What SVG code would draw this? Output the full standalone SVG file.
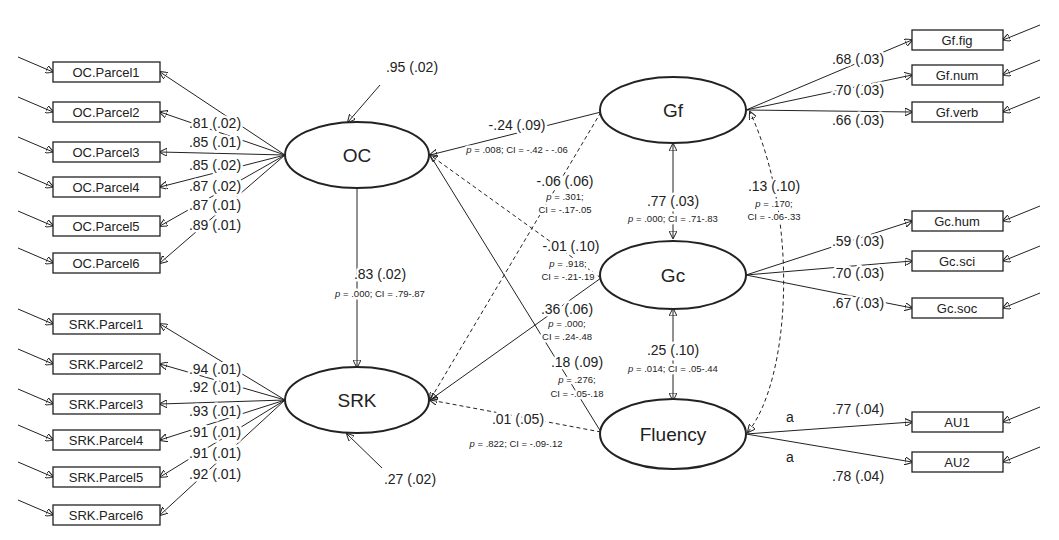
<svg xmlns="http://www.w3.org/2000/svg" width="1059" height="540" viewBox="0 0 1059 540">
<style>
text{font-family:"Liberation Sans",Arial,sans-serif;fill:#222}
#labels text{paint-order:stroke;stroke:#fff;stroke-width:5px;stroke-linejoin:round}
.b{font-size:14px}.s{font-size:9.5px}.n{font-size:19px}.r{font-size:13px}
line,path{stroke:#222;stroke-width:1;fill:none}
.d{stroke-dasharray:4 3}
rect{fill:#fff;stroke:#222;stroke-width:1.3}
ellipse{fill:#fff;stroke:#222;stroke-width:2}
</style>
<defs><marker id="a" markerWidth="8" markerHeight="8" refX="7" refY="4" orient="auto" markerUnits="userSpaceOnUse"><path d="M0,0L8,4L0,8z" fill="#222" stroke="none"/></marker>
<marker id="as" markerWidth="8" markerHeight="8" refX="1" refY="4" orient="auto" markerUnits="userSpaceOnUse"><path d="M8,0L0,4L8,8z" fill="#222" stroke="none"/></marker></defs>
<g id="connectors" marker-end="url(#a)">
<line x1="18" y1="57" x2="53" y2="72"/><line x1="18" y1="97" x2="53" y2="112"/><line x1="18" y1="137" x2="53" y2="152"/><line x1="18" y1="172" x2="53" y2="187"/><line x1="18" y1="211" x2="53" y2="226"/><line x1="18" y1="248" x2="53" y2="263"/>
<line x1="18" y1="309" x2="53" y2="324"/><line x1="18" y1="349" x2="53" y2="364"/><line x1="18" y1="389" x2="53" y2="404"/><line x1="18" y1="425" x2="53" y2="440"/><line x1="18" y1="462" x2="53" y2="477"/><line x1="18" y1="500" x2="53" y2="515"/>
<line x1="285" y1="155" x2="160" y2="72"/><line x1="285" y1="155" x2="160" y2="112"/><line x1="285" y1="155" x2="160" y2="152"/><line x1="285" y1="155" x2="160" y2="187"/><line x1="285" y1="155" x2="160" y2="226"/><line x1="285" y1="155" x2="160" y2="263"/>
<line x1="285" y1="400" x2="160" y2="324"/><line x1="285" y1="400" x2="160" y2="364"/><line x1="285" y1="400" x2="160" y2="404"/><line x1="285" y1="400" x2="160" y2="440"/><line x1="285" y1="400" x2="160" y2="477"/><line x1="285" y1="400" x2="160" y2="515"/>
<line x1="380" y1="85" x2="348" y2="122"/><line x1="382" y1="468" x2="347" y2="434"/>
<line x1="357" y1="188" x2="357" y2="367"/>
<line x1="1040" y1="25" x2="1003" y2="40"/><line x1="1040" y1="60" x2="1003" y2="75"/><line x1="1040" y1="97" x2="1003" y2="112"/><line x1="1040" y1="206" x2="1003" y2="221"/><line x1="1040" y1="246" x2="1003" y2="261"/><line x1="1040" y1="293" x2="1003" y2="308"/><line x1="1040" y1="407" x2="1003" y2="422"/><line x1="1040" y1="447" x2="1003" y2="462"/>
<line x1="746" y1="110" x2="912" y2="40"/><line x1="746" y1="110" x2="912" y2="75"/><line x1="746" y1="110" x2="912" y2="112"/>
<line x1="746" y1="275" x2="912" y2="221"/><line x1="746" y1="275" x2="912" y2="261"/><line x1="746" y1="275" x2="912" y2="308"/>
<line x1="746" y1="434" x2="912" y2="422"/><line x1="746" y1="434" x2="912" y2="462"/>
<line x1="673" y1="238" x2="673" y2="144" marker-start="url(#as)"/>
<line x1="673" y1="400" x2="673" y2="309" marker-start="url(#as)"/>
<line x1="601" y1="112" x2="430" y2="155"/>
<line class="d" x1="601" y1="112" x2="430" y2="400"/>
<line class="d" x1="601" y1="278" x2="430" y2="155"/>
<line x1="601" y1="278" x2="430" y2="400"/>
<line x1="601" y1="432" x2="430" y2="155" marker-end="none"/>
<line class="d" x1="601" y1="432" x2="430" y2="400"/>
<path class="d" d="M748,432 C790,380 800,220 750,112" marker-start="url(#as)"/>
</g>
<g id="OC"><ellipse cx="357" cy="155" rx="72" ry="33"/><text class="n" x="357" y="162" text-anchor="middle">OC</text></g>
<g id="SRK"><ellipse cx="357" cy="400" rx="72" ry="33"/><text class="n" x="357" y="407" text-anchor="middle">SRK</text></g>
<g id="Gf"><ellipse cx="673" cy="110" rx="73" ry="33"/><text class="n" x="673" y="117" text-anchor="middle">Gf</text></g>
<g id="Gc"><ellipse cx="673" cy="275" rx="73" ry="34"/><text class="n" x="673" y="282" text-anchor="middle">Gc</text></g>
<g id="Fluency"><ellipse cx="673" cy="434" rx="73" ry="35"/><text class="n" x="673" y="441" text-anchor="middle">Fluency</text></g>
<g id="boxes-left" class="r" text-anchor="middle">
<g id="OC.Parcel1"><rect x="53" y="62" width="107" height="20"/><text x="106" y="77">OC.Parcel1</text></g>
<g id="OC.Parcel2"><rect x="53" y="102" width="107" height="20"/><text x="106" y="117">OC.Parcel2</text></g>
<g id="OC.Parcel3"><rect x="53" y="142" width="107" height="20"/><text x="106" y="157">OC.Parcel3</text></g>
<g id="OC.Parcel4"><rect x="53" y="177" width="107" height="20"/><text x="106" y="192">OC.Parcel4</text></g>
<g id="OC.Parcel5"><rect x="53" y="216" width="107" height="20"/><text x="106" y="231">OC.Parcel5</text></g>
<g id="OC.Parcel6"><rect x="53" y="253" width="107" height="20"/><text x="106" y="268">OC.Parcel6</text></g>
<g id="SRK.Parcel1"><rect x="53" y="314" width="107" height="20"/><text x="106" y="329">SRK.Parcel1</text></g>
<g id="SRK.Parcel2"><rect x="53" y="354" width="107" height="20"/><text x="106" y="369">SRK.Parcel2</text></g>
<g id="SRK.Parcel3"><rect x="53" y="394" width="107" height="20"/><text x="106" y="409">SRK.Parcel3</text></g>
<g id="SRK.Parcel4"><rect x="53" y="430" width="107" height="20"/><text x="106" y="445">SRK.Parcel4</text></g>
<g id="SRK.Parcel5"><rect x="53" y="467" width="107" height="20"/><text x="106" y="482">SRK.Parcel5</text></g>
<g id="SRK.Parcel6"><rect x="53" y="505" width="107" height="20"/><text x="106" y="520">SRK.Parcel6</text></g>
</g>
<g id="boxes-right" class="r" text-anchor="middle">
<g id="Gf.fig"><rect x="912" y="30" width="91" height="20"/><text x="957" y="45">Gf.fig</text></g>
<g id="Gf.num"><rect x="912" y="65" width="91" height="20"/><text x="957" y="80">Gf.num</text></g>
<g id="Gf.verb"><rect x="912" y="102" width="91" height="20"/><text x="957" y="117">Gf.verb</text></g>
<g id="Gc.hum"><rect x="912" y="211" width="91" height="20"/><text x="957" y="226">Gc.hum</text></g>
<g id="Gc.sci"><rect x="912" y="251" width="91" height="20"/><text x="957" y="266">Gc.sci</text></g>
<g id="Gc.soc"><rect x="912" y="298" width="91" height="20"/><text x="957" y="313">Gc.soc</text></g>
<g id="AU1"><rect x="912" y="412" width="91" height="20"/><text x="957" y="427">AU1</text></g>
<g id="AU2"><rect x="912" y="452" width="91" height="20"/><text x="957" y="467">AU2</text></g>
</g>
<g id="labels" class="b" text-anchor="middle">
<text x="215" y="128">.81 (.02)</text><text x="215" y="147">.85 (.01)</text><text x="215" y="170">.85 (.02)</text><text x="215" y="191">.87 (.02)</text><text x="215" y="210">.87 (.01)</text><text x="215" y="230">.89 (.01)</text>
<text x="215" y="374">.94 (.01)</text><text x="215" y="392">.92 (.01)</text><text x="215" y="416">.93 (.01)</text><text x="215" y="437">.91 (.01)</text><text x="215" y="458">.91 (.01)</text><text x="215" y="479">.92 (.01)</text>
<text x="412" y="72">.95 (.02)</text><text x="410" y="484">.27 (.02)</text>
<text x="380" y="279">.83 (.02)</text><text class="s" x="380" y="297"><tspan font-style="italic">p</tspan> = .000; CI = .79-.87</text>
<text x="517" y="130">-.24 (.09)</text><text class="s" x="517" y="153"><tspan font-style="italic">p</tspan> = .008; CI = -.42 - -.06</text>
<text x="565" y="186">-.06 (.06)</text><text class="s" x="565" y="200"><tspan font-style="italic">p</tspan> = .301;</text><text class="s" x="565" y="213">CI = -.17-.05</text>
<text x="571" y="251">-.01 (.10)</text><text class="s" x="568" y="267"><tspan font-style="italic">p</tspan> = .918;</text><text class="s" x="568" y="280">CI = -.21-.19</text>
<text x="567" y="314">.36 (.06)</text><text class="s" x="567" y="327"><tspan font-style="italic">p</tspan> = .000;</text><text class="s" x="567" y="340">CI = .24-.48</text>
<text x="577" y="367">.18 (.09)</text><text class="s" x="577" y="383"><tspan font-style="italic">p</tspan> = .276;</text><text class="s" x="577" y="397">CI = -.05-.18</text>
<text x="518" y="424">.01 (.05)</text><text class="s" x="516" y="447"><tspan font-style="italic">p</tspan> = .822; CI = -.09-.12</text>
<text x="673" y="206">.77 (.03)</text><text class="s" x="673" y="222"><tspan font-style="italic">p</tspan> = .000; CI = .71-.83</text>
<text x="673" y="355">.25 (.10)</text><text class="s" x="673" y="372"><tspan font-style="italic">p</tspan> = .014; CI = .05-.44</text>
<text x="774" y="191">.13 (.10)</text><text class="s" x="774" y="207"><tspan font-style="italic">p</tspan> = .170;</text><text class="s" x="774" y="220">CI = -.06-.33</text>
<text x="858" y="64">.68 (.03)</text><text x="858" y="95">.70 (.03)</text><text x="858" y="125">.66 (.03)</text>
<text x="858" y="246">.59 (.03)</text><text x="858" y="278">.70 (.03)</text><text x="858" y="308">.67 (.03)</text>
<text x="790" y="422">a</text><text x="790" y="462">a</text>
<text x="858" y="414">.77 (.04)</text><text x="858" y="481">.78 (.04)</text>
</g>
</svg>
